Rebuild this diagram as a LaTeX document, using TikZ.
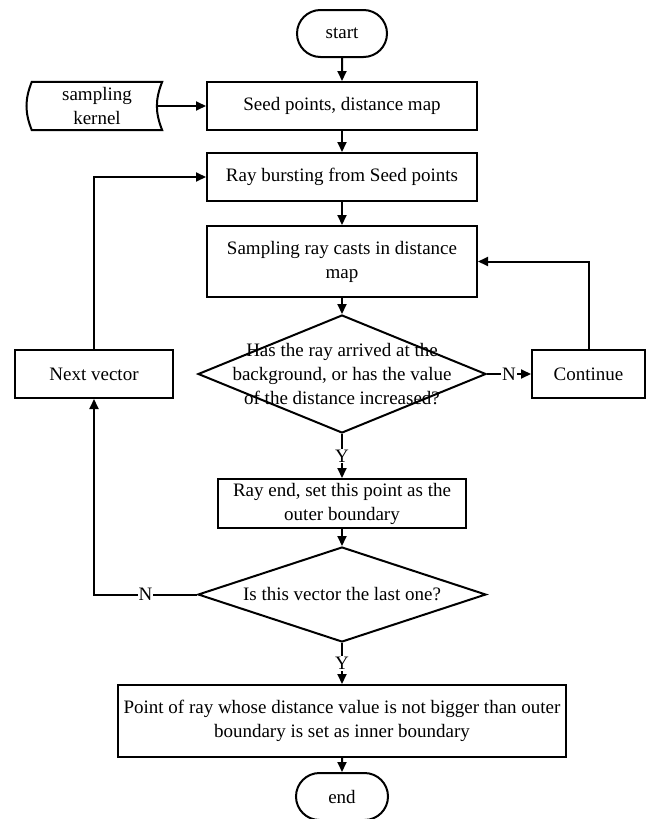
\documentclass[tikz,border=0pt]{standalone}
\usepackage{fontspec}
\setmainfont{Liberation Serif}
\usetikzlibrary{positioning,shapes,arrows.meta}

\begin{document}
\begin{tikzpicture}[x=1pt,y={(0pt,-1pt)}]
\tikzstyle{every node}+=[inner sep=0pt, font=\fontsize{19}{24}\selectfont]
\tikzstyle{box}=[draw, line width=2pt, rectangle, align=center]
\tikzstyle{term}=[draw, line width=2pt, rounded rectangle, minimum width=90pt, minimum height=47pt]
\tikzstyle{decision}=[draw, line width=2pt, diamond, minimum width=288pt]
\tikzstyle{flow}=[line width=2pt, -{Triangle[length=10pt,width=9pt]}]
\tikzstyle{yn}=[fill=white, inner sep=1pt]
\useasboundingbox (0,0) rectangle (647,819);
% nodes
\node [term] (start) at (342,33.5) {start};
\node [minimum width=130pt, minimum height=48pt, align=center] (kernel) at (97,106) {sampling\\kernel};
\draw [line width=2pt] (kernel.north west) -- (kernel.north east) to[bend right=22] (kernel.south east)
  -- (kernel.south west) to[bend left=22] (kernel.north west) -- cycle;
\node [box, minimum width=270pt, minimum height=48pt] (seed) at (342,106) {Seed points, distance map};
\node [box, minimum width=270pt, minimum height=48pt] (ray) at (342,177) {Ray bursting from Seed points};
\node [box, minimum width=270pt, minimum height=71pt] (sampling) at (342,261.5) {Sampling ray casts in distance\\map};
\node [decision, minimum height=118pt, label={[align=center]center:Has the ray arrived at the\\background, or has the value\\of the distance increased?}] (dec1) at (342,374) {};
\node [box, minimum width=158pt, minimum height=48pt] (next) at (94,374) {Next vector};
\node [box, minimum width=113pt, minimum height=48pt] (cont) at (588.5,374) {Continue};
\node [box, minimum width=248pt, minimum height=49pt] (rayend) at (342,503.5) {Ray end, set this point as the\\outer boundary};
\node [decision, minimum height=95pt, label={center:Is this vector the last one?}] (dec2) at (342,594.5) {};
\node [box, minimum width=448pt, minimum height=72pt] (point) at (342,721) {Point of ray whose distance value is not bigger than outer\\boundary is set as inner boundary};
\node [term, minimum width=92pt] (end) at (342,796.5) {end};
% connectors
\draw [flow] (start) -- (seed);
\draw [flow] ([xshift=-6pt]kernel.east) -- (seed.west);
\draw [flow] (seed) -- (ray);
\draw [flow] (ray) -- (sampling);
\draw [flow] (sampling.south) -- (dec1.north);
\draw [flow] (dec1.east) -- node [yn] {N} (cont.west);
\draw [flow] (cont.north) |- (sampling.east);
\draw [flow] (dec1.south) -- node [yn] {Y} (rayend.north);
\draw [flow] (rayend.south) -- (dec2.north);
\draw [flow] (dec2.west) -| node [yn, pos=0.25] {N} (next.south);
\draw [flow] (next.north) |- (ray.west);
\draw [flow] (dec2.south) -- node [yn] {Y} (point.north);
\draw [flow] (point) -- (end);
\end{tikzpicture}
\end{document}
